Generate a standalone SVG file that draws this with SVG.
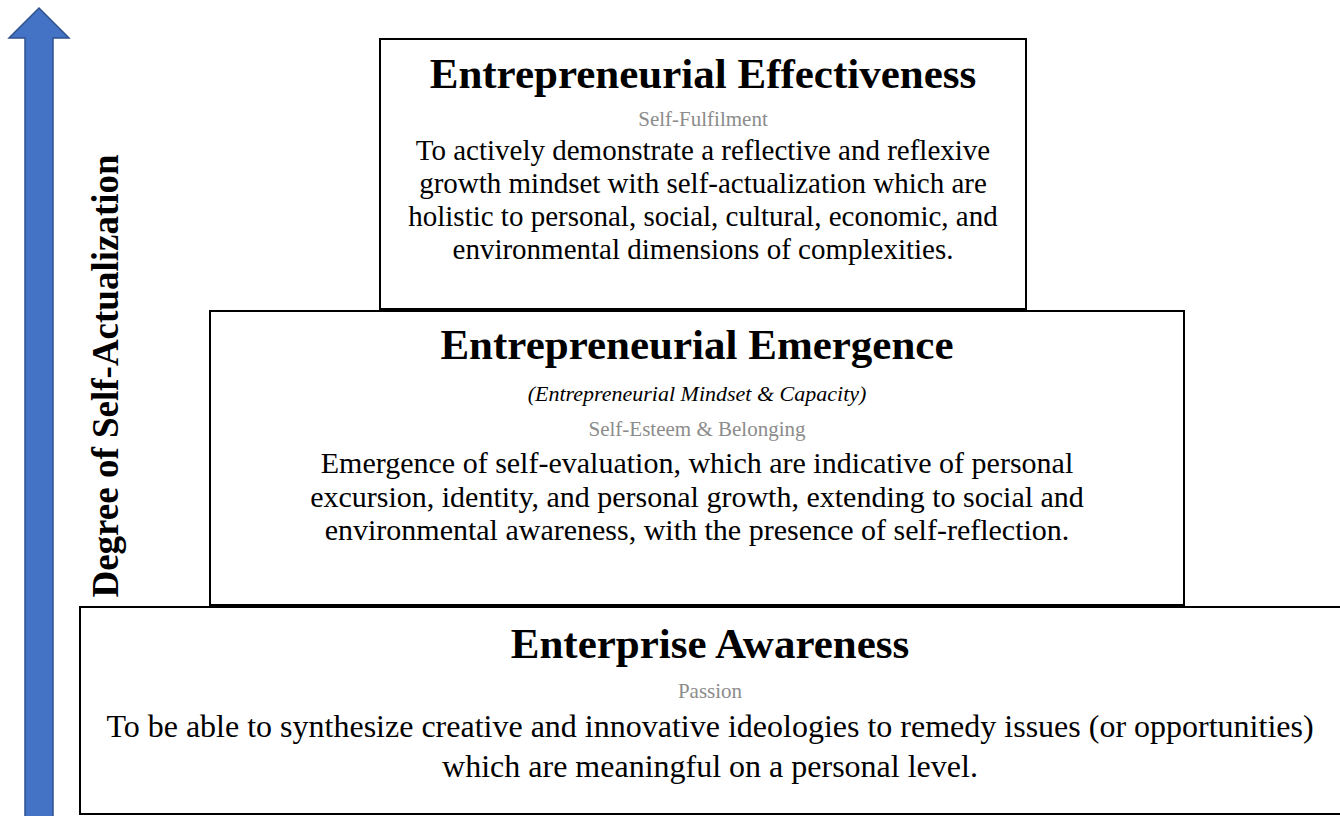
<svg xmlns="http://www.w3.org/2000/svg" width="1340" height="816" viewBox="0 0 1340 816">
<style>
.box{fill:#fff;stroke:#000;stroke-width:2}
text{font-family:"Liberation Serif","Times New Roman",serif;text-anchor:middle;fill:#000}
.t{font-weight:bold;font-size:43px}
.s{fill:#8c8c8c;font-size:21px}
.i{font-style:italic;font-size:22px}
.b1{font-size:29px}
.b2{font-size:30px}
.b3{font-size:32px}
.ax{font-weight:bold;font-size:37px}
</style>
<rect width="1340" height="816" fill="#fff"/>
<g id="arrow">
<polygon points="25,837 25,38 9,38 39,8 69,38 53,38 53,837" fill="#4472C4" stroke="#2F528F" stroke-width="1.5"/>
</g>
<g id="axis-label">
<text class="ax" transform="translate(118,376) rotate(-90)">Degree of Self-Actualization</text>
</g>
<g id="top">
<rect class="box" x="380" y="39" width="646" height="270"/>
<text class="t" x="703" y="88">Entrepreneurial Effectiveness</text>
<text class="s" x="703" y="126">Self-Fulfilment</text>
<text class="b1" x="703" y="160">To actively demonstrate a reflective and reflexive</text>
<text class="b1" x="703" y="193">growth mindset with self-actualization which are</text>
<text class="b1" x="703" y="226">holistic to personal, social, cultural, economic, and</text>
<text class="b1" x="703" y="259">environmental dimensions of complexities.</text>
</g>
<g id="middle">
<rect class="box" x="210" y="311" width="974" height="294"/>
<text class="t" x="697" y="359">Entrepreneurial Emergence</text>
<text class="i" x="697" y="401">(Entrepreneurial Mindset &amp; Capacity)</text>
<text class="s" x="697" y="436">Self-Esteem &amp; Belonging</text>
<text class="b2" x="697" y="473">Emergence of self-evaluation, which are indicative of personal</text>
<text class="b2" x="697" y="507">excursion, identity, and personal growth, extending to social and</text>
<text class="b2" x="697" y="540">environmental awareness, with the presence of self-reflection.</text>
</g>
<g id="bottom">
<rect class="box" x="80" y="607" width="1280" height="207"/>
<text class="t" x="710" y="658">Enterprise Awareness</text>
<text class="s" x="710" y="698">Passion</text>
<text class="b3" x="710" y="737">To be able to synthesize creative and innovative ideologies to remedy issues (or opportunities)</text>
<text class="b3" x="710" y="777">which are meaningful on a personal level.</text>
</g>
<g id="connectors"/>
</svg>
